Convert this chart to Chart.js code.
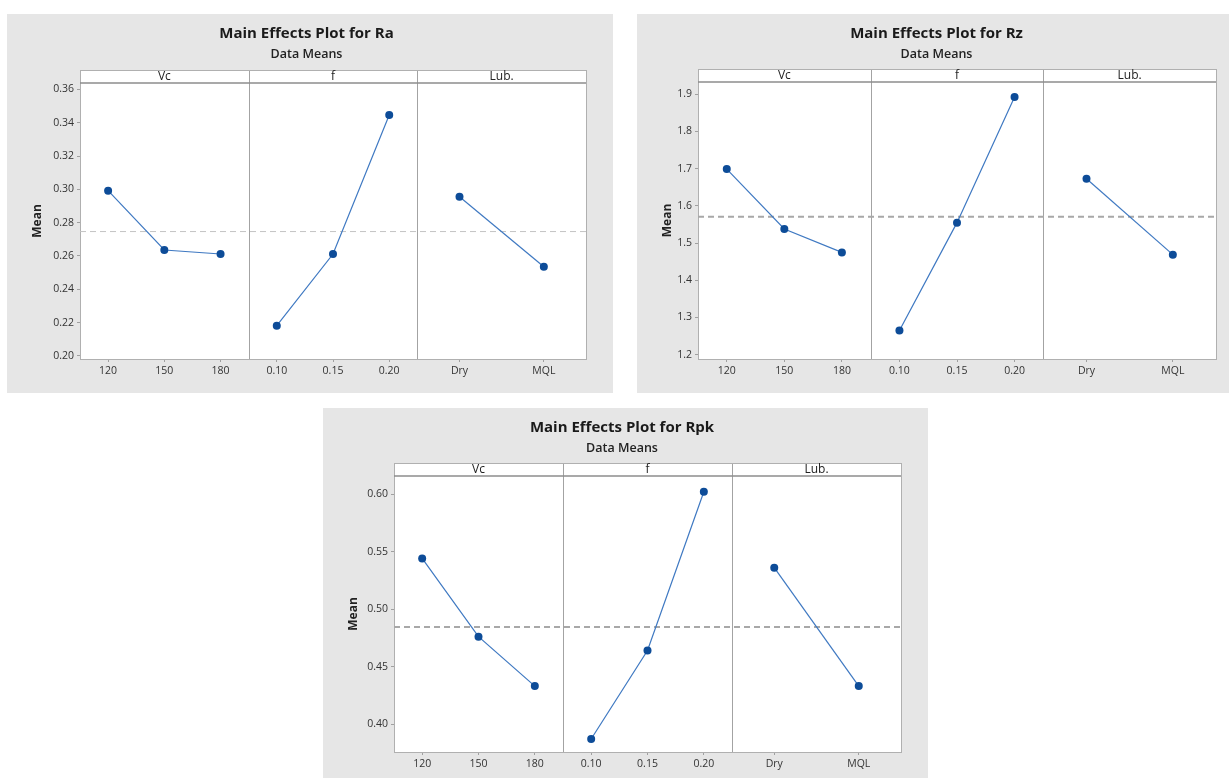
<!DOCTYPE html>
<html>
<head>
<meta charset="utf-8">
<title>Main Effects Plots</title>
<script src="https://cdn.jsdelivr.net/npm/chart.js@4.4.1/dist/chart.umd.min.js"></script>
<style>
    body { margin: 0; background: #fff; width: 1229px; height: 778px; overflow: hidden; position: relative; }
    .panel { position: absolute; background: #e6e6e6; }
    canvas { display: block; }
</style>
</head>
<body>
<div class="panel" style="left:7px;top:14px;width:606px;height:379px"><canvas id="raChart" width="606" height="379"></canvas></div>
<div class="panel" style="left:637px;top:14px;width:592px;height:379px"><canvas id="rzChart" width="592" height="379"></canvas></div>
<div class="panel" style="left:323px;top:408px;width:605px;height:370px"><canvas id="rpkChart" width="605" height="370"></canvas></div>
<script>
// Factors and levels
const factorNames = ['Vc', 'f', 'Lub.'];
const vcLevels = ['120', '150', '180'];
const fLevels = ['0.10', '0.15', '0.20'];
const lubLevels = ['Dry', 'MQL'];

// Ra means
const raVc = [0.2992, 0.2636, 0.2612];
const raF = [0.2182, 0.2612, 0.3446];
const raLub = [0.2956, 0.2536];
const raTicks = [0.20, 0.22, 0.24, 0.26, 0.28, 0.30, 0.32, 0.34, 0.36];

// Rz means
const rzVc = [1.699, 1.538, 1.475];
const rzF = [1.265, 1.555, 1.893];
const rzLub = [1.673, 1.469];
const rzTicks = [1.2, 1.3, 1.4, 1.5, 1.6, 1.7, 1.8, 1.9];

// Rpk means
const rpkVc = [0.544, 0.476, 0.433];
const rpkF = [0.387, 0.464, 0.602];
const rpkLub = [0.536, 0.433];
const rpkTicks = [0.40, 0.45, 0.50, 0.55, 0.60];

const FONT = '"Open Sans", "Noto Sans", sans-serif';
const STRIP = 13;

// x position of each level inside its panel (panel width = 1)
function levelPositions(panel, n) {
    if (n === 3) return [panel + 1 / 6, panel + 0.5, panel + 5 / 6];
    return [panel + 0.25, panel + 0.75];
}

function average(values) {
    return values.reduce((s, v) => s + v, 0) / values.length;
}

// White plot area, strip header and panel dividers
const panelPlugin = {
    id: 'panels',
    beforeDraw(chart) {
        const { ctx, chartArea: a } = chart;
        ctx.save();
        ctx.fillStyle = '#fff';
        ctx.fillRect(a.left, a.top - STRIP, a.right - a.left, a.bottom - a.top + STRIP);
        ctx.restore();
    },
    beforeDatasetsDraw(chart) {
        const { ctx, chartArea: a, scales: { x } } = chart;
        const top = a.top - STRIP;
        ctx.save();
        // dividers
        ctx.strokeStyle = '#a3a3a3';
        ctx.lineWidth = 1;
        [1, 2].forEach(v => {
            const px = Math.round(x.getPixelForValue(v)) + 0.5;
            ctx.beginPath();
            ctx.moveTo(px, top);
            ctx.lineTo(px, a.bottom);
            ctx.stroke();
        });
        // outer border
        ctx.strokeStyle = '#b0b0b0';
        ctx.strokeRect(Math.round(a.left) + 0.5, Math.round(top) + 0.5, Math.round(a.right - a.left), Math.round(a.bottom - top));
        // strip bottom line
        ctx.strokeStyle = '#8c8c8c';
        ctx.lineWidth = 1.5;
        ctx.beginPath();
        ctx.moveTo(a.left, a.top);
        ctx.lineTo(a.right, a.top);
        ctx.stroke();
        // strip labels
        ctx.fillStyle = '#222';
        ctx.font = '12px ' + FONT;
        ctx.textAlign = 'center';
        ctx.textBaseline = 'middle';
        factorNames.forEach((name, i) => {
            ctx.fillText(name, x.getPixelForValue(i + 0.5), top + STRIP / 2 + 0.5);
        });
        ctx.restore();
    }
};

function makeChart(id, cfg) {
    const series = [cfg.vc, cfg.f, cfg.lub];
    const levels = [vcLevels, fLevels, lubLevels];
    const xPos = [];
    const xLabels = [];
    const datasets = [];

    series.forEach((values, p) => {
        const pos = levelPositions(p, values.length);
        pos.forEach((v, i) => { xPos.push(v); xLabels.push(levels[p][i]); });
        datasets.push({
            data: values.map((y, i) => ({ x: pos[i], y: y })),
            borderColor: '#3f79c2',
            borderWidth: 1.2,
            pointRadius: 4,
            pointBackgroundColor: '#0d4c98',
            pointBorderWidth: 0,
            tension: 0,
            order: 1
        });
    });

    // grand mean reference line
    const m = average(cfg.vc);
    datasets.push({
        data: [{ x: 0, y: m }, { x: 3, y: m }],
        borderColor: cfg.meanColor,
        borderWidth: cfg.meanWidth,
        borderDash: [6, 4],
        pointRadius: 0,
        order: 10
    });

    return new Chart(document.getElementById(id).getContext('2d'), {
        type: 'line',
        data: { datasets: datasets },
        plugins: [panelPlugin],
        options: {
            responsive: false,
            animation: false,
            layout: { padding: { left: 20, right: cfg.padRight, top: 0, bottom: 0 } },
            plugins: {
                legend: { display: false },
                tooltip: { enabled: false },
                title: {
                    display: true,
                    text: cfg.title,
                    color: '#1a1a1a',
                    font: { family: FONT, size: 15, weight: 'bold' },
                    padding: { top: 11, bottom: 4 }
                },
                subtitle: {
                    display: true,
                    text: 'Data Means',
                    color: '#222',
                    font: { family: FONT, size: 12.5, weight: '600' },
                    padding: { top: 0, bottom: cfg.subPad }
                }
            },
            scales: {
                x: {
                    type: 'linear',
                    min: 0,
                    max: 3,
                    afterBuildTicks: s => { s.ticks = xPos.map(v => ({ value: v })); },
                    afterFit: s => { s.height = cfg.xHeight; },
                    ticks: {
                        autoSkip: false,
                        maxRotation: 0,
                        padding: 3,
                        color: '#333',
                        font: { family: FONT, size: 10.5 },
                        callback: (value, index) => xLabels[index]
                    },
                    grid: { drawOnChartArea: false, tickLength: 3, color: '#a0a0a0' },
                    border: { display: false }
                },
                y: {
                    min: cfg.min,
                    max: cfg.max,
                    afterBuildTicks: s => { s.ticks = cfg.ticks.map(v => ({ value: v })); },
                    afterFit: s => { s.width = cfg.yWidth; },
                    ticks: {
                        padding: 3,
                        color: '#333',
                        font: { family: FONT, size: 10.5 },
                        callback: value => value.toFixed(cfg.decimals)
                    },
                    grid: { drawOnChartArea: false, tickLength: 3, color: '#a0a0a0' },
                    border: { display: false },
                    title: {
                        display: true,
                        text: 'Mean',
                        color: '#222',
                        font: { family: FONT, size: 12, weight: 'bold' },
                        padding: { top: 3, bottom: 0 }
                    }
                }
            }
        }
    });
}

makeChart('raChart', {
    title: 'Main Effects Plot for Ra',
    vc: raVc, f: raF, lub: raLub, ticks: raTicks,
    min: 0.1982, max: 0.3638, decimals: 2,
    meanColor: '#c4c4c4', meanWidth: 1,
    yWidth: 53, padRight: 27, subPad: 21, xHeight: 34
});

makeChart('rzChart', {
    title: 'Main Effects Plot for Rz',
    vc: rzVc, f: rzF, lub: rzLub, ticks: rzTicks,
    min: 1.1885, max: 1.933, decimals: 1,
    meanColor: '#a8a8a8', meanWidth: 2,
    yWidth: 41, padRight: 13, subPad: 20, xHeight: 34
});

makeChart('rpkChart', {
    title: 'Main Effects Plot for Rpk',
    vc: rpkVc, f: rpkF, lub: rpkLub, ticks: rpkTicks,
    min: 0.3757, max: 0.6157, decimals: 2,
    meanColor: '#a8a8a8', meanWidth: 2,
    yWidth: 51, padRight: 27, subPad: 20, xHeight: 26
});
</script>
</body>
</html>
